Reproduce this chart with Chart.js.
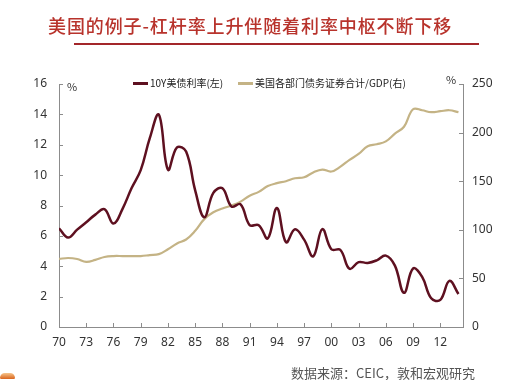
<!DOCTYPE html>
<html>
<head>
<meta charset="utf-8">
<script src="https://cdn.jsdelivr.net/npm/chart.js@4.4.0/dist/chart.umd.min.js"></script>
<style>
  body { margin: 0; background: #fff; }
  #wrap { position: relative; width: 518px; height: 380px; overflow: hidden; font-family: "Noto Sans CJK SC", sans-serif; }
  #wrap canvas { position: absolute; left: 0; top: 0; }
  .title { position: absolute; left: 48px; top: 12px; font-size: 18px; letter-spacing: 0.9px; color: #b8332c; font-weight: 500; white-space: nowrap; }
  .rule { position: absolute; left: 74px; top: 43px; width: 405px; height: 2px; background: #a3262a; }
  .legend { position: absolute; top: 75px; font-size: 10px; color: #222; white-space: nowrap; }
  .legend i { display: inline-block; width: 15px; height: 2.5px; vertical-align: middle; margin-right: 2px; position: relative; top: -1px; }
  .unit { position: absolute; font-size: 11px; color: #333; }
  .source { position: absolute; left: 291px; top: 363px; font-size: 13px; color: #555; white-space: nowrap; }
  .logo { position: absolute; left: 0px; top: 373px; width: 15px; height: 6px; border-radius: 8px 8px 2px 2px; background: linear-gradient(#f6c48a, #d9641c); }
</style>
</head>
<body>
<div id="wrap">
  <canvas id="lev"></canvas>
  <div class="title">美国的例子-杠杆率上升伴随着利率中枢不断下移</div>
  <div class="rule"></div>
  <div class="legend" style="left:133px"><i style="background:#5e1020"></i>10Y美债利率(左)</div>
  <div class="legend" style="left:238px"><i style="background:#c4b385"></i>美国各部门债务证券合计/GDP(右)</div>
  <div class="unit" style="left:67px; top:78px">%</div>
  <div class="unit" style="left:446px; top:71px">%</div>
  <div class="source">数据来源：CEIC，敦和宏观研究</div>
  <div class="logo"></div>
</div>
<script>
// 年份
var years = [1970, 1971, 1972, 1973, 1974, 1975, 1976, 1977, 1978, 1979,
             1980, 1981, 1982, 1983, 1984, 1985, 1986, 1987, 1988, 1989,
             1990, 1991, 1992, 1993, 1994, 1995, 1996, 1997, 1998, 1999,
             2000, 2001, 2002, 2003, 2004, 2005, 2006, 2007, 2008, 2009,
             2010, 2011, 2012, 2013, 2014];

// 10Y美债利率 (%) - 左轴
var yield10y = [6.50, 5.89, 6.41, 6.90, 7.40, 7.76, 6.81, 7.78, 9.15, 10.33,
                12.43, 13.98, 10.36, 11.82, 11.55, 9.00, 7.23, 8.83, 9.14, 7.93,
                8.08, 6.71, 6.70, 5.83, 7.84, 5.58, 6.43, 5.75, 4.65, 6.45,
                5.12, 5.07, 3.83, 4.27, 4.22, 4.39, 4.70, 4.04, 2.25, 3.85,
                3.30, 1.89, 1.78, 3.04, 2.17];

// 美国各部门债务证券合计/GDP (%) - 右轴
var debtGdp = [70, 71, 70, 67, 69, 72, 73, 73, 73, 73,
               74, 75, 80, 86, 90, 99, 111, 118, 122, 125,
               129, 135, 139, 145, 148, 150, 153, 154, 159, 162,
               160, 165, 172, 178, 186, 188, 191, 199, 206, 224,
               223, 221, 222, 223, 221];

// 刻度
var xTicks = [1970, 1973, 1976, 1979, 1982, 1985, 1988, 1991, 1994, 1997, 2000, 2003, 2006, 2009, 2012];
var leftTicks = [0, 2, 4, 6, 8, 10, 12, 14, 16];
var rightTicks = [0, 50, 100, 150, 200, 250];

var axisColor = '#8c8c8c';
var tickFont = { family: "'Noto Sans', sans-serif", size: 12 };

function pts(arr) {
    return years.map(function (y, i) { return { x: y, y: arr[i] }; });
}

// --- 朝内的刻度线 ---
var innerTicks = {
    id: 'innerTicks',
    afterDraw: function (chart) {
        var ctx = chart.ctx, a = chart.chartArea;
        var sx = chart.scales.x, yl = chart.scales.y, yr = chart.scales.y1;
        ctx.save();
        ctx.strokeStyle = axisColor;
        ctx.lineWidth = 1;
        ctx.beginPath();
        xTicks.forEach(function (v) {
            var p = Math.round(sx.getPixelForValue(v)) + 0.5;
            ctx.moveTo(p, a.bottom); ctx.lineTo(p, a.bottom - 4);
        });
        leftTicks.forEach(function (v) {
            var p = Math.round(yl.getPixelForValue(v)) + 0.5;
            ctx.moveTo(a.left, p); ctx.lineTo(a.left + 4, p);
        });
        rightTicks.forEach(function (v) {
            var p = Math.round(yr.getPixelForValue(v)) + 0.5;
            ctx.moveTo(a.right, p); ctx.lineTo(a.right - 4, p);
        });
        ctx.stroke();
        ctx.restore();
    }
};

var config = {
    type: 'line',
    data: {
        datasets: [{
            label: '10Y美债利率(左)',
            data: pts(yield10y),
            yAxisID: 'y',
            borderColor: '#5e1020',
            borderWidth: 2.5,
            pointRadius: 0,
            tension: 0.4,
            order: 0
        }, {
            label: '美国各部门债务证券合计/GDP(右)',
            data: pts(debtGdp),
            yAxisID: 'y1',
            borderColor: '#c4b385',
            borderWidth: 2.2,
            pointRadius: 0,
            tension: 0.4,
            order: 1
        }]
    },
    options: {
        responsive: true,
        maintainAspectRatio: false,
        animation: false,
        layout: { padding: { top: 84 } },
        plugins: {
            legend: { display: false },
            tooltip: { enabled: false }
        },
        scales: {
            x: {
                type: 'linear',
                min: 1970,
                max: 2014.5,
                grid: { display: false, drawTicks: false },
                border: { display: true, color: axisColor },
                afterBuildTicks: function (axis) {
                    axis.ticks = xTicks.map(function (v) { return { value: v }; });
                },
                afterFit: function (axis) { axis.height = 53; },
                ticks: {
                    color: '#333',
                    font: tickFont,
                    padding: 8,
                    maxRotation: 0,
                    autoSkip: false,
                    callback: function (v) { return String(v).slice(2); }
                }
            },
            y: {
                position: 'left',
                min: 0,
                max: 16,
                grid: { display: false, drawTicks: false },
                border: { display: true, color: axisColor },
                afterBuildTicks: function (axis) {
                    axis.ticks = leftTicks.map(function (v) { return { value: v }; });
                },
                afterFit: function (axis) { axis.width = 59; },
                ticks: { color: '#333', font: tickFont, padding: 12 }
            },
            y1: {
                position: 'right',
                min: 0,
                max: 250,
                grid: { display: false, drawTicks: false },
                border: { display: true, color: axisColor },
                afterBuildTicks: function (axis) {
                    axis.ticks = rightTicks.map(function (v) { return { value: v }; });
                },
                afterFit: function (axis) { axis.width = 55; },
                ticks: { color: '#333', font: tickFont, padding: 9 }
            }
        }
    },
    plugins: [innerTicks]
};

var canvas = document.getElementById('lev');
var levChart = new Chart(canvas, config);
</script>
</body>
</html>
